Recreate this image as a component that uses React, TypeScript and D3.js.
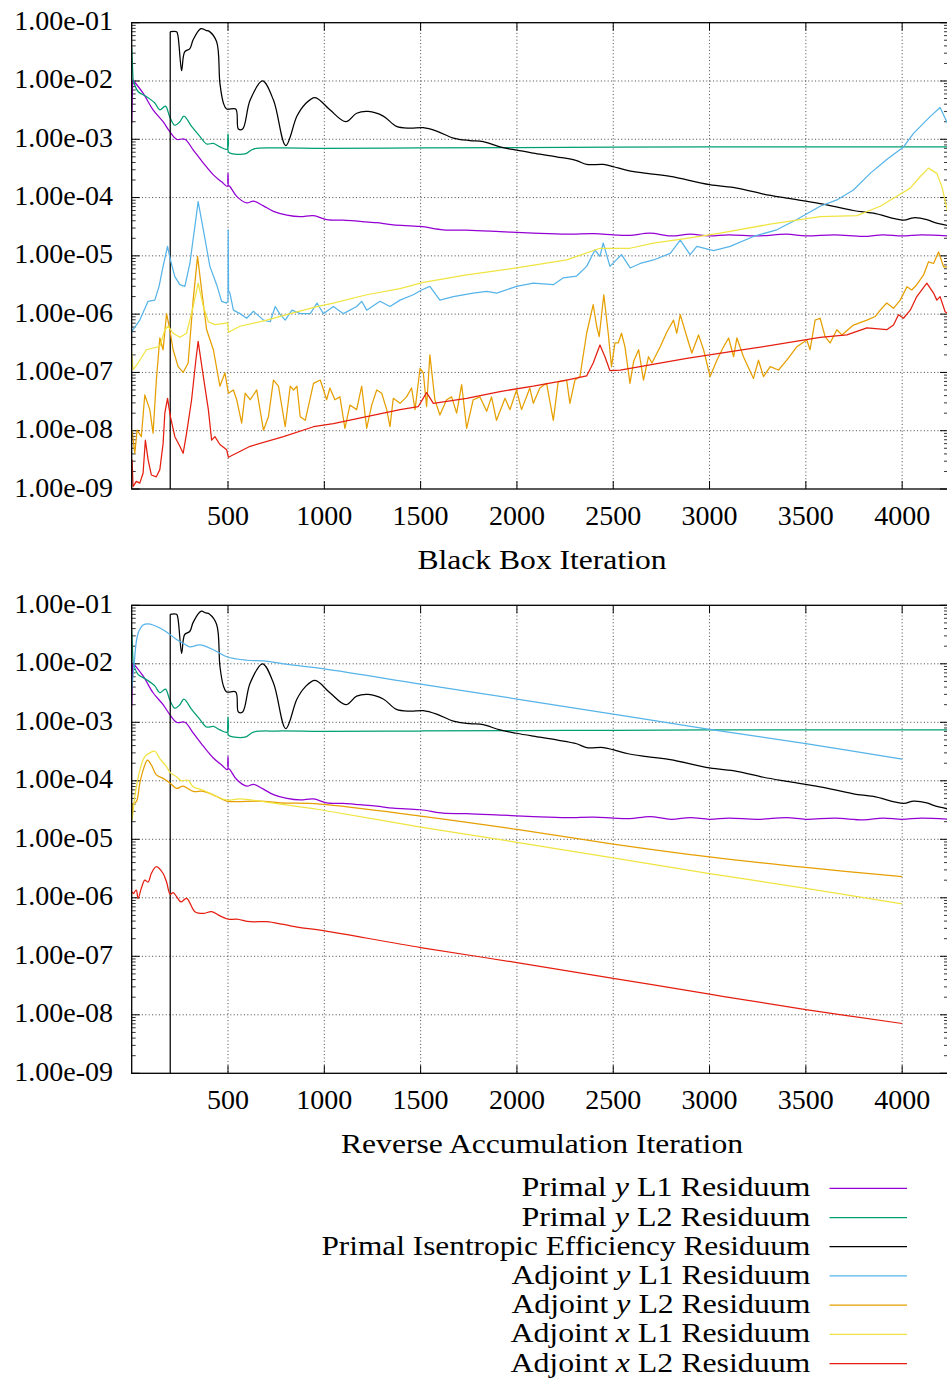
import React from 'react';
import * as d3 from 'd3';

type P = [number, number];

// ---------- data (iteration, residual) ----------
const primalYL1: P[] = [
  [0, 1.9e-3], [5, 1.05e-2], [59, 6.2e-3], [111, 3.2e-3], [163, 2.0e-3], [198, 1.35e-3], [233, 1.0e-3],
  [276, 1.0e-3], [319, 6.6e-4], [372, 3.9e-4], [424, 2.45e-4], [467, 1.86e-4], [497, 1.55e-4], [500, 2.6e-4],
  [501, 1.65e-4], [510, 1.55e-4], [545, 1.05e-4], [597, 8.1e-5], [632, 8.7e-5], [684, 7.2e-5], [736, 5.8e-5],
  [806, 5.0e-5], [875, 4.7e-5], [943, 4.9e-5], [1012, 4.2e-5], [1100, 4.1e-5], [1185, 3.9e-5], [1270, 3.7e-5],
  [1358, 3.4e-5], [1497, 3.2e-5], [1618, 2.8e-5], [1739, 2.75e-5], [1912, 2.6e-5], [2085, 2.45e-5],
  [2258, 2.35e-5], [2400, 2.4e-5], [2500, 2.3e-5], [2586, 2.25e-5], [2690, 2.45e-5], [2800, 2.2e-5],
  [2900, 2.35e-5], [3000, 2.2e-5], [3100, 2.3e-5], [3250, 2.2e-5], [3400, 2.35e-5], [3500, 2.2e-5],
  [3650, 2.3e-5], [3800, 2.15e-5], [3900, 2.3e-5], [4000, 2.2e-5], [4100, 2.3e-5], [4238, 2.2e-5],
];

const primalYL2: P[] = [
  [0, 3.8e-2], [7, 1.05e-2], [33, 6.6e-3], [76, 5.4e-3], [120, 4.2e-3], [146, 3.2e-3], [175, 3.7e-3],
  [198, 2.4e-3], [224, 1.74e-3], [250, 2.0e-3], [271, 2.5e-3], [311, 1.66e-3], [354, 1.12e-3], [389, 8.3e-4],
  [424, 8.5e-4], [458, 7.4e-4], [497, 6.8e-4], [500, 1.23e-3], [501, 6.2e-4], [510, 5.8e-4], [589, 5.6e-4],
  [632, 6.8e-4], [750, 7.1e-4], [1000, 7.0e-4], [1500, 7.1e-4], [2000, 7.2e-4], [2500, 7.3e-4],
  [3000, 7.4e-4], [3500, 7.4e-4], [4238, 7.4e-4],
];

const primalEff: P[] = [
  [200, 1e-10], [200, 7.0e-2], [233, 7.0e-2], [240, 6.0e-2], [259, 1.5e-2], [268, 2.6e-2], [276, 3.2e-2],
  [302, 3.6e-2], [319, 5.1e-2], [359, 7.9e-2], [385, 7.4e-2], [403, 7.1e-2], [441, 4.7e-2], [458, 9.1e-3],
  [476, 4.2e-3], [493, 3.3e-3], [540, 3.3e-3], [554, 1.5e-3], [576, 1.5e-3], [615, 4.7e-3], [679, 1.0e-2],
  [736, 4.7e-3], [800, 7.8e-4], [858, 2.5e-3], [900, 4.0e-3], [952, 5.2e-3], [1029, 3.2e-3], [1112, 2.0e-3],
  [1168, 2.8e-3], [1228, 3.0e-3], [1306, 2.5e-3], [1375, 1.66e-3], [1445, 1.55e-3], [1514, 1.58e-3],
  [1583, 1.38e-3], [1670, 1.05e-3], [1756, 9.5e-4], [1825, 9.1e-4], [1912, 7.4e-4], [1998, 6.5e-4],
  [2085, 5.8e-4], [2206, 5.0e-4], [2310, 4.3e-4], [2362, 3.7e-4], [2448, 3.7e-4], [2499, 3.4e-4],
  [2578, 2.9e-4], [2675, 2.6e-4], [2796, 2.3e-4], [3000, 1.66e-4], [3142, 1.45e-4], [3280, 1.15e-4],
  [3401, 9.8e-5], [3574, 7.9e-5], [3747, 6.0e-5], [3851, 5.4e-5], [4007, 4.1e-5], [4059, 4.5e-5],
  [4128, 4.2e-5], [4163, 3.8e-5], [4238, 3.3e-5],
];

// Black box iteration: adjoint residuals
const bbAdjYL1: P[] = [
  [0, 5.0e-7], [42, 7.9e-7], [85, 1.66e-6], [120, 1.74e-6], [142, 3.0e-6], [163, 6.6e-6], [186, 1.45e-5],
  [201, 8.5e-6], [224, 4.4e-6], [250, 3.2e-6], [276, 3.0e-6], [302, 7.4e-6], [328, 3.2e-5], [345, 8.5e-5],
  [372, 2.8e-5], [406, 6.6e-6], [441, 3.2e-6], [467, 1.66e-6], [493, 1.55e-6], [500, 1.7e-6], [501, 2.8e-5],
  [503, 2.5e-6], [510, 2.3e-6], [528, 1.17e-6], [562, 1.02e-6], [597, 8.5e-7], [632, 1.12e-6], [684, 7.9e-7],
  [719, 7.4e-7], [745, 1.35e-6], [771, 9.8e-7], [797, 7.9e-7], [832, 1.17e-6], [875, 1.02e-6], [927, 1.02e-6],
  [962, 1.55e-6], [995, 1.02e-6], [1047, 1.35e-6], [1099, 1.02e-6], [1168, 1.35e-6], [1194, 1.66e-6],
  [1220, 1.17e-6], [1289, 1.66e-6], [1341, 1.35e-6], [1393, 1.74e-6], [1462, 2.15e-6], [1505, 2.6e-6],
  [1548, 3.0e-6], [1600, 1.74e-6], [1670, 2.0e-6], [1773, 2.3e-6], [1843, 2.45e-6], [1895, 2.3e-6],
  [1998, 3.0e-6], [2085, 3.4e-6], [2189, 3.2e-6], [2241, 4.2e-6], [2310, 4.5e-6], [2362, 6.6e-6],
  [2405, 1.26e-5], [2431, 9.8e-6], [2448, 1.66e-5], [2483, 6.6e-6], [2543, 1.05e-5], [2588, 6.2e-6],
  [2640, 7.4e-6], [2709, 8.5e-6], [2796, 1.1e-5], [2848, 1.86e-5], [2899, 1.05e-5], [2934, 1.45e-5],
  [3021, 1.23e-5], [3107, 1.45e-5], [3228, 2.15e-5], [3349, 2.8e-5], [3453, 4.2e-5], [3574, 7.1e-5],
  [3661, 9.1e-5], [3747, 1.35e-4], [3834, 2.6e-4], [3920, 4.5e-4], [4007, 7.4e-4], [4059, 1.26e-3],
  [4145, 2.45e-3], [4197, 3.5e-3], [4238, 1.8e-3],
];

const bbAdjYL2: P[] = [
  [2, 1.02e-8], [16, 4.1e-9], [28, 1.02e-8], [50, 7.9e-9], [68, 4.1e-8], [94, 2.3e-8], [111, 9.1e-9],
  [128, 7.4e-8], [146, 3.9e-7], [163, 2.45e-7], [181, 1.02e-6], [198, 5.4e-7], [215, 2.45e-7], [241, 1.26e-7],
  [267, 1.0e-7], [293, 1.45e-7], [319, 1.74e-6], [342, 9.8e-6], [363, 2.6e-6], [389, 5.4e-7], [424, 2.45e-7],
  [458, 5.8e-8], [484, 9.8e-8], [502, 4.4e-8], [528, 5.0e-8], [545, 3.4e-8], [571, 1.35e-8], [589, 4.4e-8],
  [615, 3.4e-8], [649, 5.0e-8], [684, 1.02e-8], [710, 1.74e-8], [736, 7.4e-8], [762, 5.8e-8], [797, 1.17e-8],
  [823, 5.8e-8], [840, 5.0e-8], [858, 5.8e-8], [875, 1.74e-8], [901, 1.51e-8], [944, 6.5e-8], [979, 7.4e-8],
  [1012, 3.4e-8], [1029, 5.4e-8], [1055, 3.4e-8], [1081, 3.8e-8], [1107, 1.1e-8], [1133, 2.75e-8],
  [1168, 2.3e-8], [1194, 5.8e-8], [1220, 1.1e-8], [1246, 2.75e-8], [1272, 5.0e-8], [1298, 4.4e-8],
  [1324, 2.3e-8], [1341, 1.17e-8], [1358, 3.6e-8], [1393, 2.95e-8], [1427, 3.8e-8], [1453, 5.4e-8],
  [1471, 2.3e-8], [1497, 1.17e-7], [1514, 9.8e-8], [1531, 2.6e-8], [1548, 2.0e-7], [1574, 3.4e-8],
  [1600, 1.86e-8], [1635, 3.4e-8], [1661, 3.8e-8], [1687, 2.0e-8], [1713, 6.2e-8], [1739, 1.1e-8],
  [1773, 3.4e-8], [1808, 3.8e-8], [1843, 2.15e-8], [1868, 3.8e-8], [1894, 1.51e-8], [1938, 3.6e-8],
  [1964, 2.3e-8], [1998, 5.0e-8], [2024, 2.3e-8], [2067, 5.4e-8], [2085, 2.95e-8], [2119, 5.4e-8],
  [2154, 6.5e-8], [2189, 1.51e-8], [2214, 6.9e-8], [2258, 7.4e-8], [2275, 2.95e-8], [2301, 7.4e-8],
  [2327, 8.5e-8], [2362, 4.7e-7], [2396, 1.45e-6], [2414, 6.2e-7], [2427, 4.1e-7], [2451, 2.15e-6],
  [2474, 4.7e-7], [2491, 1.26e-7], [2509, 3.2e-7], [2526, 3.2e-7], [2543, 4.7e-7], [2561, 2.75e-7],
  [2587, 6.5e-8], [2606, 1.55e-7], [2632, 2.45e-7], [2657, 7.4e-8], [2683, 1.86e-7], [2701, 1.45e-7],
  [2744, 2.75e-7], [2779, 5.0e-7], [2813, 7.9e-7], [2830, 4.7e-7], [2848, 9.8e-7], [2882, 4.1e-7],
  [2908, 2.15e-7], [2943, 4.4e-7], [2969, 2.45e-7], [3003, 8.5e-8], [3038, 1.62e-7], [3073, 2.75e-7],
  [3099, 3.9e-7], [3125, 1.86e-7], [3142, 3.9e-7], [3176, 1.86e-7], [3228, 7.9e-8], [3254, 1.62e-7],
  [3280, 8.5e-8], [3315, 1.26e-7], [3358, 1.1e-7], [3401, 1.62e-7], [3453, 2.75e-7], [3505, 3.6e-7],
  [3522, 2.45e-7], [3548, 7.9e-7], [3574, 8.5e-7], [3600, 4.1e-7], [3626, 3.2e-7], [3661, 5.4e-7],
  [3687, 4.4e-7], [3747, 6.5e-7], [3817, 7.9e-7], [3860, 9.1e-7], [3886, 1.17e-6], [3920, 1.55e-6],
  [3955, 1.26e-6], [3990, 1.74e-6], [4025, 2.95e-6], [4050, 2.6e-6], [4076, 3.2e-6], [4111, 4.7e-6],
  [4137, 7.9e-6], [4163, 7.4e-6], [4189, 1.17e-5], [4215, 6.5e-6], [4238, 6.5e-6],
];

const bbAdjXL1: P[] = [
  [0, 2.1e-7], [7, 1.12e-7], [33, 1.45e-7], [76, 2.45e-7], [146, 2.8e-7], [172, 5.4e-7], [189, 6.2e-7],
  [215, 4.7e-7], [250, 4.0e-7], [285, 4.7e-7], [319, 1.35e-6], [345, 3.4e-6], [372, 1.35e-6], [398, 7.4e-7],
  [432, 6.6e-7], [498, 7.1e-7], [503, 4.9e-7], [562, 6.2e-7], [701, 7.9e-7], [823, 1.02e-6], [962, 1.35e-6],
  [1047, 1.55e-6], [1220, 2.15e-6], [1393, 2.75e-6], [1514, 3.5e-6], [1739, 4.7e-6], [1998, 6.2e-6],
  [2258, 8.5e-6], [2431, 1.35e-5], [2586, 1.35e-5], [2709, 1.66e-5], [2882, 2.0e-5], [3055, 2.45e-5],
  [3315, 3.5e-5], [3574, 4.7e-5], [3765, 4.9e-5], [3886, 7.1e-5], [3972, 1.05e-4], [4042, 1.45e-4],
  [4094, 2.3e-4], [4137, 3.2e-4], [4180, 2.6e-4], [4206, 1.55e-4], [4238, 5.4e-5],
];

const bbAdjXL2: P[] = [
  [2, 3.2e-9], [7, 1.1e-9], [24, 1.35e-9], [42, 1.26e-9], [59, 1.86e-9], [71, 6.9e-9], [85, 3.2e-9],
  [102, 1.74e-9], [128, 1.62e-9], [146, 2.15e-9], [163, 6.0e-9], [172, 2.0e-8], [186, 3.6e-8], [201, 1.74e-8],
  [224, 7.9e-9], [250, 5.4e-9], [267, 4.1e-9], [285, 9.1e-9], [311, 3.4e-8], [333, 1.62e-7], [345, 3.4e-7],
  [372, 8.5e-8], [398, 2.3e-8], [415, 6.9e-9], [432, 7.9e-9], [458, 5.8e-9], [493, 4.7e-9], [502, 3.5e-9],
  [615, 5.4e-9], [788, 7.9e-9], [944, 1.17e-8], [1047, 1.32e-8], [1220, 1.74e-8], [1393, 2.3e-8],
  [1488, 2.6e-8], [1531, 4.5e-8], [1566, 2.95e-8], [1739, 3.6e-8], [1912, 4.7e-8], [2085, 5.8e-8],
  [2258, 7.4e-8], [2362, 8.7e-8], [2396, 1.45e-7], [2431, 2.95e-7], [2457, 1.86e-7], [2483, 1.07e-7],
  [2536, 1.1e-7], [2882, 1.74e-7], [3228, 2.6e-7], [3574, 4.0e-7], [3713, 4.4e-7], [3817, 5.8e-7],
  [3920, 5.4e-7], [3955, 6.5e-7], [3981, 9.8e-7], [4007, 8.5e-7], [4042, 1.17e-6], [4076, 2.0e-6],
  [4128, 3.4e-6], [4163, 2.3e-6], [4180, 1.74e-6], [4197, 2.0e-6], [4223, 1.1e-6], [4238, 1.02e-6],
];

// Reverse accumulation: adjoint residuals
const raAdjYL1: P[] = [
  [0, 3.5e-3], [16, 1.32e-2], [33, 3.3e-2], [59, 4.6e-2], [85, 4.8e-2], [111, 4.6e-2], [146, 4.1e-2],
  [181, 3.5e-2], [233, 2.6e-2], [267, 2.25e-2], [302, 1.95e-2], [354, 2.1e-2], [424, 1.74e-2], [493, 1.32e-2],
  [597, 1.15e-2], [684, 1.12e-2], [788, 1.0e-2], [1000, 8.2e-3], [1500, 4.5e-3], [2000, 2.5e-3],
  [2500, 1.38e-3], [3000, 7.6e-4], [3500, 4.3e-4], [4000, 2.35e-4],
];

const raAdjYL2: P[] = [
  [2, 2.15e-5], [7, 4.1e-5], [24, 4.4e-5], [42, 9.1e-5], [59, 1.51e-4], [82, 2.25e-4], [102, 1.86e-4],
  [128, 1.26e-4], [163, 1.1e-4], [200, 9.1e-5], [233, 7.4e-5], [267, 8.1e-5], [319, 6.6e-5], [372, 6.6e-5],
  [441, 5.4e-5], [493, 4.5e-5], [667, 4.5e-5], [771, 4.2e-5], [979, 4.0e-5], [1500, 2.5e-5], [2000, 1.48e-5],
  [2500, 8.3e-6], [3000, 5.0e-6], [3500, 3.3e-6], [4000, 2.3e-6],
];

const raAdjXL1: P[] = [
  [2, 2.15e-5], [16, 5.4e-5], [42, 1.51e-4], [68, 2.6e-4], [94, 3.0e-4], [120, 3.2e-4], [146, 2.4e-4],
  [181, 1.74e-4], [200, 1.38e-4], [233, 1.17e-4], [259, 1.0e-4], [293, 1.02e-4], [319, 7.9e-5], [372, 6.9e-5],
  [441, 5.4e-5], [493, 4.7e-5], [562, 4.9e-5], [667, 4.5e-5], [771, 4.0e-5], [875, 3.6e-5], [979, 3.2e-5],
  [1500, 1.62e-5], [2000, 8.9e-6], [2500, 4.8e-6], [3000, 2.6e-6], [3500, 1.45e-6], [4000, 7.9e-7],
];

const raAdjXL2: P[] = [
  [2, 1.26e-6], [10, 1.17e-6], [24, 1.35e-6], [33, 9.8e-7], [50, 1.45e-6], [68, 2.0e-6], [85, 1.86e-6],
  [102, 2.6e-6], [128, 3.4e-6], [163, 2.6e-6], [181, 1.86e-6], [200, 1.15e-6], [215, 1.23e-6], [233, 1.05e-6],
  [255, 8.5e-7], [285, 9.8e-7], [328, 5.8e-7], [372, 5.4e-7], [415, 5.8e-7], [458, 4.9e-7], [502, 4.3e-7],
  [545, 4.3e-7], [615, 3.9e-7], [701, 3.9e-7], [788, 3.5e-7], [875, 3.1e-7], [979, 2.8e-7], [1500, 1.41e-7],
  [2000, 7.8e-8], [2500, 4.2e-8], [3000, 2.25e-8], [3500, 1.23e-8], [4000, 7.1e-9],
];

const xTicks = [500, 1000, 1500, 2000, 2500, 3000, 3500, 4000];
const yTicks = [1e-1, 1e-2, 1e-3, 1e-4, 1e-5, 1e-6, 1e-7, 1e-8, 1e-9];
const yTickLabels = ['1.00e-01', '1.00e-02', '1.00e-03', '1.00e-04', '1.00e-05', '1.00e-06', '1.00e-07', '1.00e-08', '1.00e-09'];
const xDomain: [number, number] = [0, 4238];
const yDomain: [number, number] = [1e-9, 1e-1];

const seriesColors = ['#9400d3', '#009e73', '#000000', '#56b4e9', '#e69f00', '#f0e442', '#e51e10'];
const legendPre = ['Primal ', 'Primal ', 'Primal Isentropic Efficiency Residuum', 'Adjoint ', 'Adjoint ', 'Adjoint ', 'Adjoint '];
const legendVar = ['y', 'y', '', 'y', 'y', 'x', 'x'];
const legendPost = [' L1 Residuum', ' L2 Residuum', '', ' L1 Residuum', ' L2 Residuum', ' L1 Residuum', ' L2 Residuum'];

const topSeries = [primalYL1, primalYL2, primalEff, bbAdjYL1, bbAdjYL2, bbAdjXL1, bbAdjXL2];
const bottomSeries = [primalYL1, primalYL2, primalEff, raAdjYL1, raAdjYL2, raAdjXL1, raAdjXL2];
const topSmooth = [true, true, true, false, false, false, false];
const bottomSmooth = [true, true, true, true, true, true, true];

const FONT = "'Liberation Serif', 'Times New Roman', serif";

function Panel(props: {
  id: string; top: number; bottom: number; series: P[][]; smooth: boolean[]; title: string; titleLen: number;
}) {
  const { id, top, bottom, series, smooth, title, titleLen } = props;
  const left = 131.7, right = 948;
  const x = d3.scaleLinear().domain(xDomain).range([left, right]);
  const y = d3.scaleLog().domain(yDomain).range([bottom, top]);
  const minor: number[] = [];
  for (let e = -9; e < -1; e++) for (let m = 2; m <= 9; m++) minor.push(m * Math.pow(10, e));
  const lin = d3.line<P>().x(d => x(d[0])).y(d => y(d[1]));
  const smoothLine = d3.line<P>().x(d => x(d[0])).y(d => y(d[1])).curve(d3.curveCatmullRom.alpha(0.5));
  const pathFor = (s: P[], sm: boolean) => {
    if (!sm) return lin(s) || '';
    // first segment straight (vertical start of the efficiency residual), rest smooth
    return (lin([s[0], s[1]]) || '') + (smoothLine(s.slice(1)) || '');
  };
  return (
    <g>
      <defs>
        <clipPath id={id}>
          <rect x={left} y={top} width={right - left} height={bottom - top} />
        </clipPath>
      </defs>
      {/* grid */}
      {yTicks.slice(1, -1).map((t, i) => (
        <line key={'gy' + i} x1={left} x2={right} y1={y(t)} y2={y(t)} stroke="#000" strokeWidth={0.9}
          strokeDasharray="1,2.4" opacity={0.8} />
      ))}
      {xTicks.map((t, i) => (
        <line key={'gx' + i} x1={x(t)} x2={x(t)} y1={top} y2={bottom} stroke="#000" strokeWidth={0.9}
          strokeDasharray="1,2.4" opacity={0.8} />
      ))}
      {/* ticks */}
      {yTicks.map((t, i) => (
        <g key={'ty' + i}>
          <line x1={left} x2={left + 8} y1={y(t)} y2={y(t)} stroke="#000" strokeWidth={1} />
          <line x1={right - 8} x2={right} y1={y(t)} y2={y(t)} stroke="#000" strokeWidth={1} />
        </g>
      ))}
      {minor.map((t, i) => (
        <g key={'tm' + i}>
          <line x1={left} x2={left + 4} y1={y(t)} y2={y(t)} stroke="#000" strokeWidth={0.8} />
          <line x1={right - 4} x2={right} y1={y(t)} y2={y(t)} stroke="#000" strokeWidth={0.8} />
        </g>
      ))}
      {xTicks.map((t, i) => (
        <g key={'tx' + i}>
          <line x1={x(t)} x2={x(t)} y1={bottom} y2={bottom - 8} stroke="#000" strokeWidth={1} />
          <line x1={x(t)} x2={x(t)} y1={top} y2={top + 8} stroke="#000" strokeWidth={1} />
        </g>
      ))}
      {/* series */}
      <g clipPath={`url(#${id})`}>
        {series.map((s, i) => (
          <path key={'s' + i} d={pathFor(s, smooth[i])} fill="none" stroke={seriesColors[i]}
            strokeWidth={1.25} strokeLinejoin="round" />
        ))}
      </g>
      {/* border */}
      <rect x={left} y={top} width={right - left} height={bottom - top} fill="none" stroke="#000" strokeWidth={1.3} />
      {/* labels */}
      {yTicks.map((t, i) => (
        <text key={'ly' + i} x={113} y={y(t) + 7.5} textAnchor="end" fontSize={28} fontFamily={FONT}>{yTickLabels[i]}</text>
      ))}
      {xTicks.map((t, i) => (
        <text key={'lx' + i} x={x(t)} y={bottom + 36} textAnchor="middle" fontSize={28} fontFamily={FONT}>{t}</text>
      ))}
      <text x={542} y={bottom + 80} textAnchor="middle" fontSize={28} fontFamily={FONT}
        textLength={titleLen} lengthAdjust="spacingAndGlyphs">{title}</text>
    </g>
  );
}

const legendLens = [289, 289, 489, 299, 299, 300, 300];

export default function App() {
  return (
    <svg width={947} height={1381} style={{ position: 'absolute', left: 0, top: 0, background: '#fff' }}
      xmlns="http://www.w3.org/2000/svg">
      <rect x={0} y={0} width={947} height={1381} fill="#fff" />
      <Panel id="clipTop" top={22.7} bottom={489} series={topSeries} smooth={topSmooth}
        title="Black Box Iteration" titleLen={249} />
      <Panel id="clipBottom" top={605.3} bottom={1073.3} series={bottomSeries} smooth={bottomSmooth}
        title="Reverse Accumulation Iteration" titleLen={402} />
      {seriesColors.map((c, i) => {
        const ry = 1188.3 + i * 29.2;
        return (
          <g key={'lg' + i}>
            <text x={810.4} y={ry + 8} textAnchor="end" fontSize={28} fontFamily={FONT}
              textLength={legendLens[i]} lengthAdjust="spacingAndGlyphs">
              {legendPre[i]}
              {legendVar[i] ? <tspan fontStyle="italic">{legendVar[i]}</tspan> : null}
              {legendPost[i]}
            </text>
            <line x1={829.5} x2={907} y1={ry} y2={ry} stroke={c} strokeWidth={1.25} />
          </g>
        );
      })}
    </svg>
  );
}
